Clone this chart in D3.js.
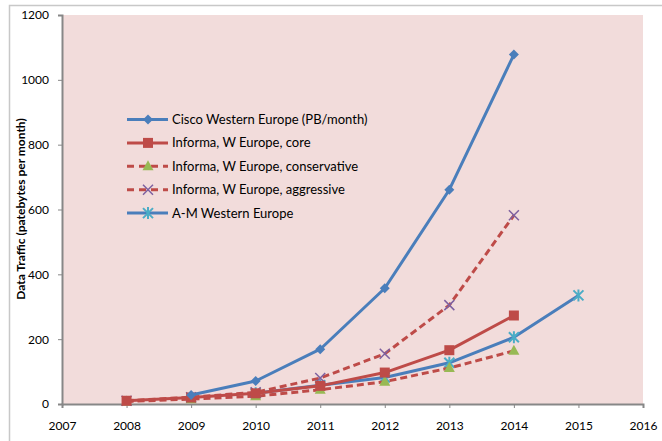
<!DOCTYPE html>
<html><head><meta charset="utf-8">
<script src="https://cdn.jsdelivr.net/npm/d3@7"></script>
<style>body{margin:0;background:#fff}svg{display:block}</style>
</head><body><svg id="c" width="662" height="441"></svg>
<script>
const yearTicks = [2007,2008,2009,2010,2011,2012,2013,2014,2015,2016];
const valueTicks = [0,200,400,600,800,1000,1200];
const ciscoYears = [2009,2010,2011,2012,2013,2014];
const ciscoValues = [28,71,169,357,661,1078];
const coreYears = [2008,2009,2010,2011,2012,2013,2014];
const coreValues = [10,20,33,56,97,166,273];
const conservativeYears = [2008,2009,2010,2011,2012,2013,2014];
const conservativeValues = [8,15,24,44,69,111,164];
const aggressiveYears = [2008,2009,2010,2011,2012,2013,2014];
const aggressiveValues = [10,21,36,80,155,305,582];
const amYears = [2010,2011,2012,2013,2014,2015];
const amValues = [33,58,82,127,206,335];
const seriesNames = ["Cisco Western Europe (PB/month)","Informa, W Europe, core","Informa, W Europe, conservative","Informa, W Europe, aggressive","A-M Western Europe"];

const series = [
 {name:seriesNames[0], xs:ciscoYears, ys:ciscoValues, line:"#4a7ebb", dash:null, marker:"diamond", mcolor:"#4a7ebb"},
 {name:seriesNames[1], xs:coreYears, ys:coreValues, line:"#be4b48", dash:null, marker:"square", mcolor:"#be4b48"},
 {name:seriesNames[2], xs:conservativeYears, ys:conservativeValues, line:"#be4b48", dash:"7,4", marker:"triangle", mcolor:"#98b954"},
 {name:seriesNames[3], xs:aggressiveYears, ys:aggressiveValues, line:"#be4b48", dash:"7,4", marker:"x", mcolor:"#7d60a0"},
 {name:seriesNames[4], xs:amYears, ys:amValues, line:"#4a7ebb", dash:null, marker:"star", mcolor:"#4bacc6"}
];

const svg = d3.select("#c");
svg.append("rect").attr("x",9.5).attr("y",5.5).attr("width",660).attr("height",440).attr("fill","#fff").attr("stroke","#c8c8c8").attr("stroke-width",1.5);

const L=62, R=643, T=15, B=404;
const x = d3.scaleLinear().domain([2007,2016]).range([L,R]);
const y = d3.scaleLinear().domain([0,1200]).range([B,T]);

svg.append("rect").attr("x",L).attr("y",T).attr("width",R-L).attr("height",B-T).attr("fill","#f2dcdb");

const font = "Lato, 'Open Sans', sans-serif";
const yAxis = svg.append("g").attr("transform",`translate(${L},0)`)
 .call(d3.axisLeft(y).tickValues(valueTicks).tickSize(4).tickPadding(9).tickFormat(d3.format("d")));
const xAxis = svg.append("g").attr("transform",`translate(0,${B})`)
 .call(d3.axisBottom(x).tickValues(yearTicks).tickSize(4).tickPadding(13).tickFormat(d3.format("d")));
[yAxis,xAxis].forEach(g=>{
 g.select(".domain").attr("stroke","#878787").attr("stroke-width",2);
 g.selectAll(".tick line").attr("stroke","#878787").attr("stroke-width",1);
 g.selectAll("text").attr("font-family",font).attr("font-size",12).attr("fill","#000");
});

svg.append("text").attr("transform",`translate(25,209) rotate(-90)`)
 .attr("text-anchor","middle").attr("font-family",font).attr("font-weight","bold").attr("font-size",12)
 .text("Data Traffic (patebytes  per month)");

function drawMarker(g, type, cx, cy, color){
 if(type==="diamond"){
  g.append("path").attr("d",`M${cx},${cy-5}L${cx+5},${cy}L${cx},${cy+5}L${cx-5},${cy}Z`).attr("fill",color);
 } else if(type==="square"){
  g.append("rect").attr("x",cx-5).attr("y",cy-5).attr("width",10).attr("height",10).attr("fill",color);
 } else if(type==="triangle"){
  g.append("path").attr("d",`M${cx},${cy-6}L${cx+5.5},${cy+4}L${cx-5.5},${cy+4}Z`).attr("fill",color);
 } else if(type==="x"){
  g.append("path").attr("d",`M${cx-5},${cy-5}L${cx+5},${cy+5}M${cx-5},${cy+5}L${cx+5},${cy-5}`).attr("stroke",color).attr("stroke-width",1.5);
 } else if(type==="star"){
  g.append("path").attr("d",`M${cx-5},${cy-5}L${cx+5},${cy+5}M${cx-5},${cy+5}L${cx+5},${cy-5}M${cx},${cy-6}L${cx},${cy+6}`).attr("stroke",color).attr("stroke-width",2);
 }
}

const lineGen = d3.line().x(d=>x(d[0])).y(d=>y(d[1]));
[4,2,3,1,0].forEach(i=>{
 const s = series[i];
 const pts = s.xs.map((v,j)=>[v,s.ys[j]]);
 const g = svg.append("g");
 g.append("path").attr("d",lineGen(pts)).attr("fill","none").attr("stroke",s.line).attr("stroke-width",3)
  .attr("stroke-dasharray",s.dash).attr("stroke-linejoin","round");
 pts.forEach(p=>drawMarker(g,s.marker,x(p[0]),y(p[1]),s.mcolor));
});

const lg = svg.append("g");
series.forEach((s,i)=>{
 const yy = 119.5 + i*23.4;
 lg.append("line").attr("x1",127).attr("x2",168).attr("y1",yy).attr("y2",yy)
  .attr("stroke",s.line).attr("stroke-width",3).attr("stroke-dasharray",s.dash ? "7,5" : null);
 drawMarker(lg,s.marker,148,yy,s.mcolor);
 lg.append("text").attr("x",172).attr("y",yy+4.5).attr("font-family",font).attr("font-size",13).text(s.name);
});
</script></body></html>
